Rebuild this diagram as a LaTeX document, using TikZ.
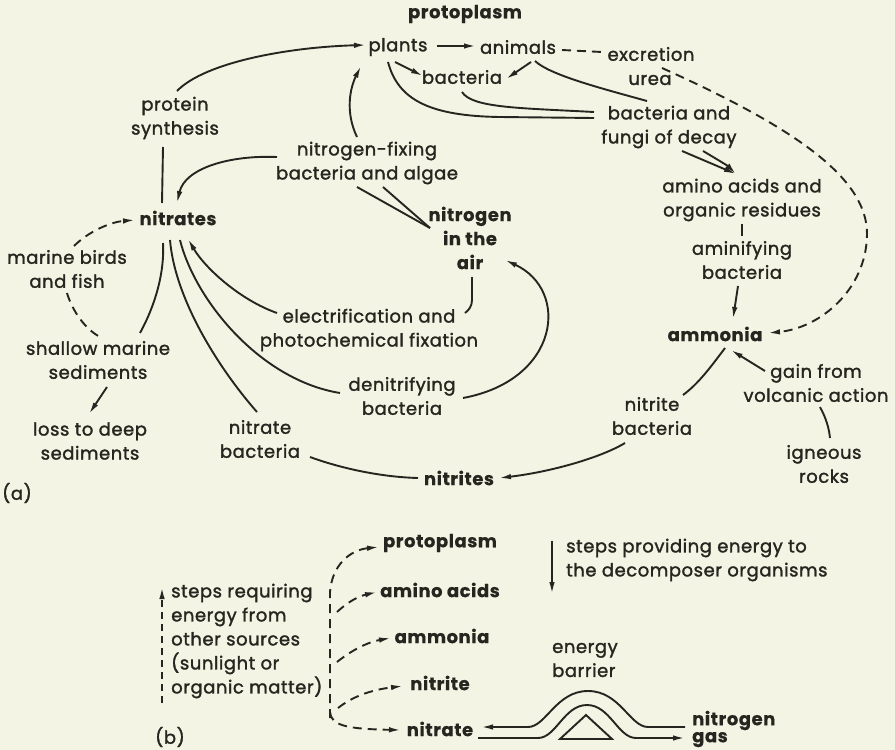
\documentclass[tikz,border=0pt]{standalone}
\usepackage{fontspec}
\setmainfont{Poppins}[LetterSpace=3,FakeBold=1.6,BoldFeatures={FakeBold=0.4}]
\usetikzlibrary{arrows.meta}
\definecolor{paper}{RGB}{244,244,228}
\definecolor{ink}{RGB}{38,38,32}
\newcommand{\fs}{\fontsize{18}{24}\selectfont}
\begin{document}
\begin{tikzpicture}[x=1pt,y=-1pt,
  lbl/.style={align=center,inner sep=1pt,text=ink,font=\fs},
  bl/.style={lbl,font=\fs\bfseries},
  ln/.style={draw=ink,line width=1.9pt},
  arr/.style={ln,-{Latex[length=12pt,width=5.5pt]}},
  dsh/.style={ln,dash pattern=on 9pt off 6pt},
  dsharr/.style={dsh,-{Latex[length=12pt,width=5.5pt]}}]
\fill[paper] (0,0) rectangle (895,750);
\useasboundingbox (0,0) rectangle (895,750);
% ---------- (a) nodes
\node[bl]  (proto)   at (465,14)  {protoplasm};
\node[lbl] (plants)  at (398,47)  {plants};
\node[lbl] (animals) at (518,47)  {animals};
\node[lbl] (excr)    at (651,54)  {excretion};
\node[lbl] (urea)    at (650,80)  {urea};
\node[lbl] (bact1)   at (462,77)  {bacteria};
\node[lbl] (bfd)     at (669,127) {bacteria and\\fungi of decay};
\node[lbl] (aao)     at (742,200) {amino acids and\\organic residues};
\node[lbl] (amin)    at (742,260) {aminifying\\bacteria};
\node[bl]  (ammonia) at (715,334) {ammonia};
\node[lbl] (gain)    at (816,383) {gain from\\volcanic action};
\node[lbl] (igneous) at (824,464) {igneous\\rocks};
\node[lbl] (nitbact) at (652,416) {nitrite\\bacteria};
\node[bl]  (nitrites) at (459,478) {nitrites};
\node[lbl] (natb)    at (260,439) {nitrate\\bacteria};
\node[lbl] (denit)   at (402,396) {denitrifying\\bacteria};
\node[lbl] (elec)    at (369,330) {electrification and\\photochemical fixation};
\node[bl]  (nair)    at (470,238) {nitrogen\\in the\\air};
\node[lbl] (nfix)    at (367,163) {nitrogen-fixing\\bacteria and algae};
\node[lbl] (psyn)    at (175,118) {protein\\synthesis};
\node[bl]  (nitrates) at (178,218) {nitrates};
\node[lbl] (marine)  at (67,269)  {marine birds\\and fish};
\node[lbl] (shallow) at (98,360)  {shallow marine\\sediments};
\node[lbl] (loss)    at (90,441)  {loss to deep\\sediments};
\node[lbl] (la)      at (17,493)  {(a)};
% ---------- (a) connectors
\draw[arr] (177,91) .. controls (205,62) and (290,47) .. (366,45);
\draw[ln] (163,147) -- (162,203);
\draw[arr] (277,157) .. controls (230,155) and (185,168) .. (177,203);
\draw[arr] (357,137) .. controls (345,112) and (350,88) .. (361,66);
\draw[arr] (437,46) -- (476,46);
\draw[arr] (395,62) -- (423,76);
\draw[arr] (531,62) -- (506,79);
\draw[ln] (535,61) .. controls (550,75) and (600,88) .. (647,101);
\draw[ln] (462,92) .. controls (472,108) and (520,108) .. (594,112);
\draw[ln] (388,62) .. controls (398,100) and (430,116) .. (500,117) -- (594,118);
\draw[dsh] (562,50) -- (602,52);
\draw[dsharr] (662,68) .. controls (800,130) and (868,180) .. (867,235)
   .. controls (866,290) and (820,328) .. (768,333);
\draw[arr] (682,151) -- (736,174);
\draw[arr] (703,151) .. controls (715,158) and (728,166) .. (736,174);
\draw[ln] (742,224) -- (742,236);
\draw[arr] (738,286) -- (733,319);
\draw[ln] (725,348) .. controls (710,368) and (698,384) .. (683,395);
\draw[arr] (765,371) -- (731,350);
\draw[ln] (820,407) .. controls (826,418) and (829,428) .. (830,438);
\draw[arr] (625,443) .. controls (600,458) and (550,472) .. (499,478);
\draw[ln] (310,457) .. controls (340,468) and (380,477) .. (418,478);
\draw[ln] (170,240) .. controls (175,300) and (220,370) .. (257,412);
\draw[ln] (180,240) .. controls (195,300) and (260,380) .. (340,393);
\draw[arr] (277,313) .. controls (240,300) and (205,268) .. (188,239);
\draw[ln] (163,243) .. controls (165,280) and (150,315) .. (140,333);
\draw[dsharr] (74,246) .. controls (88,232) and (110,222) .. (135,220);
\draw[dsh] (67,293) .. controls (72,310) and (85,330) .. (102,338);
\draw[arr] (107,387) -- (89,414);
\draw[ln] (357,187) -- (430,228);
\draw[ln] (383,187) -- (430,228);
\draw[ln] (472,277) -- (472,300) .. controls (472,306) and (469,310) .. (465,313);
\draw[arr] (463,398) .. controls (560,380) and (570,290) .. (505,260);
% ---------- (b) nodes
\node[bl]  (bproto)   at (440,543) {protoplasm};
\node[bl]  (bamino)   at (440,590) {amino acids};
\node[bl]  (bammonia) at (442,636) {ammonia};
\node[bl]  (bnitrite) at (440,683) {nitrite};
\node[bl]  (bnitrate) at (440,729) {nitrate};
\node[bl,align=left,anchor=west,font=\fontsize{18}{17}\selectfont\bfseries] (ngas) at (691,729) {nitrogen\\gas};
\node[lbl,align=left,anchor=west] (barrier) at (551,660) {energy\\barrier};
\node[lbl,align=left,anchor=west] (provide) at (565,560) {steps providing energy to\\the decomposer organisms};
\node[lbl,align=left,anchor=west] (require) at (170,641) {steps requiring\\energy from\\other sources\\(sunlight or\\organic matter)};
\node[lbl] (lb) at (170,737) {(b)};
% ---------- (b) connectors
\draw[ln,dash pattern=on 7pt off 5pt,-{Latex[length=12pt,width=5.5pt]}] (162,703) -- (162,587);
\draw[arr] (552,541) -- (552,594);
\draw[dsharr] (330,718) -- (330,592) .. controls (332,565) and (350,550) .. (379,547);
\draw[dsharr] (330,712) .. controls (331,725) and (345,729) .. (401,730);
\draw[dsharr] (337,612) .. controls (350,600) and (360,596) .. (377,592);
\draw[dsharr] (337,662) .. controls (352,650) and (368,642) .. (391,638);
\draw[dsharr] (338,708) .. controls (352,697) and (370,690) .. (403,686);
\draw[arr] (685,727) -- (648,727) .. controls (630,727) and (620,691) .. (588,691)
   .. controls (556,691) and (546,727) .. (528,727) -- (481,727);
\draw[arr] (478,738) -- (538,738) .. controls (556,738) and (564,705) .. (587,705)
   .. controls (610,705) and (618,738) .. (636,738) -- (685,738);
\draw[ln] (560,739) -- (586,715) -- (612,739) -- cycle;
\end{tikzpicture}
\end{document}
